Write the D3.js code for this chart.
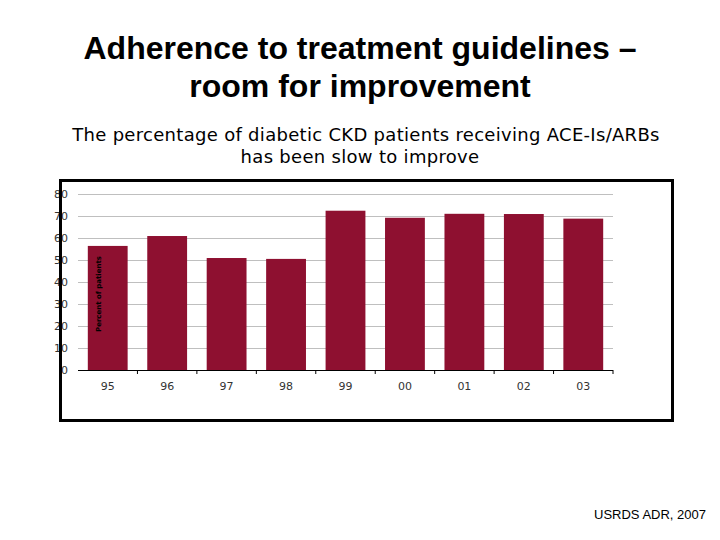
<!DOCTYPE html>
<html>
<head>
<meta charset="utf-8">
<script src="https://cdn.jsdelivr.net/npm/d3@7"></script>
<style>
  body { margin: 0; background: #fff; }
  svg { display: block; }
</style>
</head>
<body>
<svg id="chart" width="720" height="540"></svg>
<script>
// chart data
var years = ["95", "96", "97", "98", "99", "00", "01", "02", "03"];
var percents = [56.4, 60.9, 50.9, 50.5, 72.4, 69.2, 71.0, 70.9, 68.8];
var yTicks = [0, 10, 20, 30, 40, 50, 60, 70, 80];

var svg = d3.select("#chart");

// Titles
svg.append("text")
    .attr("x", 360).attr("y", 59)
    .attr("text-anchor", "middle")
    .style("font-family", "Liberation Sans, Arial, sans-serif")
    .style("font-size", "32px")
    .style("font-weight", "bold")
    .text("Adherence to treatment guidelines –");
svg.append("text")
    .attr("x", 360).attr("y", 97)
    .attr("text-anchor", "middle")
    .style("font-family", "Liberation Sans, Arial, sans-serif")
    .style("font-size", "32px")
    .style("font-weight", "bold")
    .text("room for improvement");

svg.append("text")
    .attr("x", 366).attr("y", 141)
    .attr("text-anchor", "middle")
    .style("font-family", "DejaVu Sans, Verdana, sans-serif")
    .style("font-size", "18px")
    .style("letter-spacing", "0.3px")
    .text("The percentage of diabetic CKD patients receiving ACE-Is/ARBs");
svg.append("text")
    .attr("x", 360).attr("y", 163)
    .attr("text-anchor", "middle")
    .style("font-family", "DejaVu Sans, Verdana, sans-serif")
    .style("font-size", "18px")
    .style("letter-spacing", "0.3px")
    .text("has been slow to improve");

// Plot area
var plotLeft = 78, plotRight = 613, plotTop = 194, plotBottom = 370;

var x = d3.scaleBand()
    .domain(years)
    .range([plotLeft, plotRight])
    .paddingInner(0.33)
    .paddingOuter(0.165);

var y = d3.scaleLinear()
    .domain([0, 80])
    .range([plotBottom, plotTop]);

// Gridlines
svg.append("g")
    .selectAll("line")
    .data(yTicks.filter(function (d) { return d > 0; }))
    .enter().append("line")
    .attr("x1", plotLeft).attr("x2", plotRight)
    .attr("y1", function (d) { return y(d) + 0.5; })
    .attr("y2", function (d) { return y(d) + 0.5; })
    .attr("stroke", "#bfbfbf")
    .attr("stroke-width", 1);

// Bars
svg.append("g")
    .selectAll("rect")
    .data(percents)
    .enter().append("rect")
    .attr("x", function (d, i) { return x(years[i]); })
    .attr("y", function (d) { return y(d); })
    .attr("width", x.bandwidth())
    .attr("height", function (d) { return plotBottom - y(d); })
    .attr("fill", "#8e1030");

// Y tick labels
svg.append("g")
    .selectAll("text")
    .data(yTicks)
    .enter().append("text")
    .attr("x", 68)
    .attr("y", function (d) { return y(d) + 4; })
    .attr("text-anchor", "end")
    .style("font-family", "DejaVu Sans, Verdana, sans-serif")
    .style("font-size", "11px")
    .style("fill", "#333")
    .text(function (d) { return d; });

// X axis line with ticks at category boundaries
var step = x.step();
var bounds = years.map(function (d, i) { return plotLeft + i * step; }).concat([plotRight]);
svg.append("line")
    .attr("x1", plotLeft).attr("x2", plotRight)
    .attr("y1", plotBottom + 0.5).attr("y2", plotBottom + 0.5)
    .attr("stroke", "#000").attr("stroke-width", 1.2);
svg.append("g")
    .selectAll("line")
    .data(bounds.slice(1))
    .enter().append("line")
    .attr("x1", function (d) { return d; })
    .attr("x2", function (d) { return d; })
    .attr("y1", plotBottom).attr("y2", plotBottom + 4)
    .attr("stroke", "#000");

// X tick labels
svg.append("g")
    .selectAll("text")
    .data(years)
    .enter().append("text")
    .attr("x", function (d) { return x(d) + x.bandwidth() / 2; })
    .attr("y", 390)
    .attr("text-anchor", "middle")
    .style("font-family", "DejaVu Sans, Verdana, sans-serif")
    .style("font-size", "11px")
    .style("fill", "#333")
    .text(function (d) { return d; });

// Y axis title (sits on top of the first bar, like the original)
svg.append("text")
    .attr("transform", "translate(101,294) rotate(-90)")
    .attr("text-anchor", "middle")
    .style("font-family", "DejaVu Sans, Verdana, sans-serif")
    .style("font-size", "7px")
    .style("font-weight", "bold")
    .style("fill", "#000")
    .text("Percent of patients");

// Frame
svg.append("rect")
    .attr("x", 60.5).attr("y", 180.5)
    .attr("width", 612).attr("height", 240)
    .attr("fill", "none")
    .attr("stroke", "#000")
    .attr("stroke-width", 3);

// Source
svg.append("text")
    .attr("x", 706).attr("y", 519)
    .attr("text-anchor", "end")
    .style("font-family", "Liberation Sans, Arial, sans-serif")
    .style("font-size", "13px")
    .text("USRDS ADR, 2007");
</script>
</body>
</html>
